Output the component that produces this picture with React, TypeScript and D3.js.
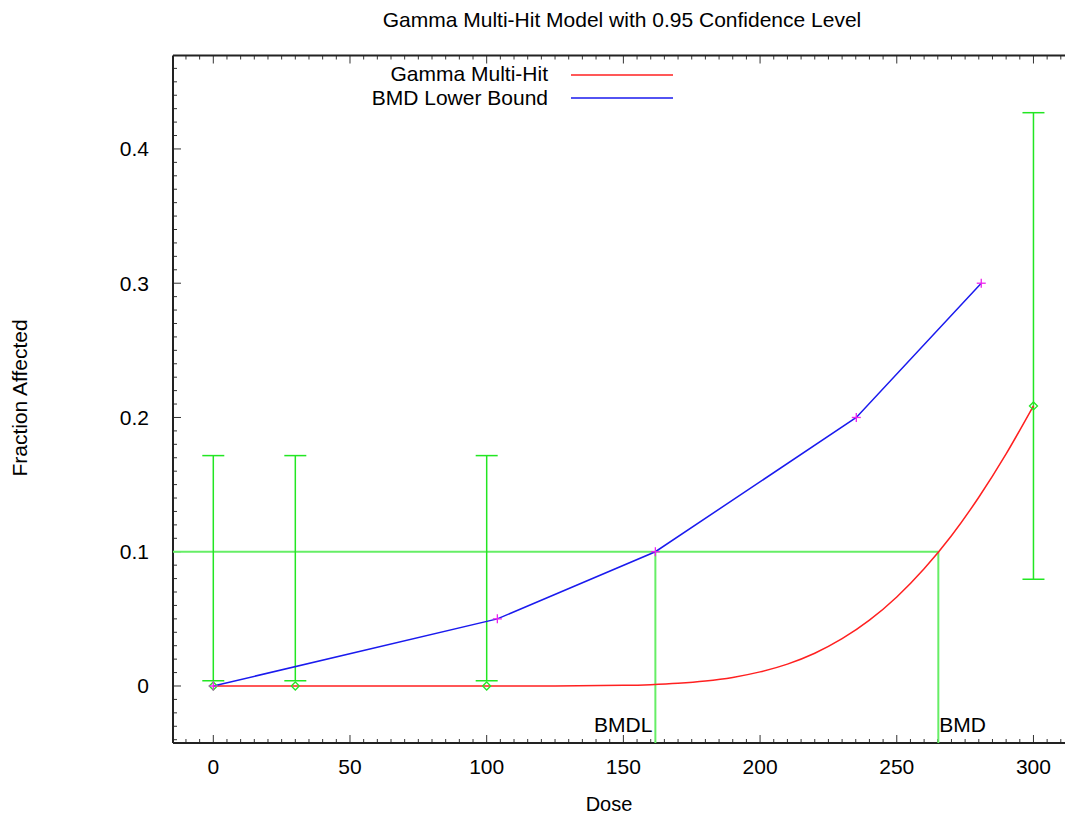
import React from "react";
import * as d3 from "d3";

const W = 1065;
const H = 816;

// Observed data with confidence intervals
const obsDose = [0, 30, 100, 300];
const obsFrac = [0, 0, 0, 0.2086];
const obsLower = [0.0039, 0.0039, 0.0039, 0.0795];
const obsUpper = [0.1716, 0.1716, 0.1716, 0.427];

// Gamma Multi-Hit fitted curve
const fitDose = [0, 50, 100, 125, 150, 160, 170, 180, 190, 200, 210, 220, 230, 240, 250, 260, 270, 280, 290, 300];
const fitFrac = [0, 0, 0, 0.00004, 0.00047, 0.001, 0.002, 0.0037, 0.0064, 0.0105, 0.0163, 0.0244, 0.0352, 0.049, 0.0663, 0.0873, 0.1119, 0.1406, 0.1729, 0.2087];

// BMD lower bound line
const lbDose = [0, 103.9, 161.7, 235.2, 280.9];
const lbFrac = [0, 0.05, 0.1, 0.2, 0.3];

const BMR = 0.1;
const BMD = 265.2;
const BMDL = 161.7;

const xTicks = [0, 50, 100, 150, 200, 250, 300];
const yTicks = [0, 0.1, 0.2, 0.3, 0.4];
const yTickLabels = ["0", "0.1", "0.2", "0.3", "0.4"];

const left = 173;
const right = 1066;
const top = 55.5;
const bottom = 743;

const x = d3.scaleLinear().domain([-14.74, 311.9]).range([left, right]);
const y = d3.scaleLinear().domain([-0.04246, 0.4696]).range([bottom, top]);

const FONT = "'Liberation Sans', Arial, Helvetica, sans-serif";
const FS = 21;

export default function App() {
  const fitLine = d3
    .line<number>()
    .x((_, i) => x(fitDose[i]))
    .y((d) => y(d))
    .curve(d3.curveMonotoneX)(fitFrac) as string;
  const lbLine = d3
    .line<number>()
    .x((_, i) => x(lbDose[i]))
    .y((d) => y(d))(lbFrac) as string;

  const xMinor = d3.range(-10, 311, 5);
  const yMinor = d3.range(-0.04, 0.465, 0.01);
  const tickCol = "#333";
  const green = "#22e622";
  const green2 = "#66ee66";

  return (
    <svg
      width={W}
      height={H}
      style={{ position: "absolute", left: 0, top: 0, background: "#fff" }}
      fontFamily={FONT}
    >
      <rect x={0} y={0} width={W} height={H} fill="#fff" />
      {/* title */}
      <text x={622} y={27} fontSize={FS} textAnchor="middle" fill="#000">
        Gamma Multi-Hit Model with 0.95 Confidence Level
      </text>

      {/* ticks */}
      <g stroke={tickCol} strokeWidth={1}>
        {xMinor.map((v) => {
          const major = Math.abs(v % 50) < 1e-9;
          const len = major ? 8 : 4;
          return (
            <g key={"xt" + v}>
              <line x1={x(v)} x2={x(v)} y1={bottom} y2={bottom - len} />
              <line x1={x(v)} x2={x(v)} y1={top} y2={top + len} />
            </g>
          );
        })}
        {yMinor.map((v, i) => {
          const major = Math.abs(Math.round(v * 100)) % 10 === 0;
          const len = major ? 8 : 4;
          return <line key={"yt" + i} x1={left} x2={left + len} y1={y(v)} y2={y(v)} />;
        })}
      </g>

      {/* frame */}
      <g stroke="#222" strokeWidth={2} fill="none">
        <line x1={left} x2={W} y1={top} y2={top} />
        <line x1={left} x2={W} y1={bottom} y2={bottom} />
        <line x1={left} x2={left} y1={top} y2={bottom} />
      </g>

      {/* tick labels */}
      <g fontSize={FS} fill="#000">
        {xTicks.map((v) => (
          <text key={"xl" + v} x={x(v)} y={774} textAnchor="middle">
            {v}
          </text>
        ))}
        {yTicks.map((v, i) => (
          <text key={"yl" + v} x={149} y={y(v) + 7.5} textAnchor="end">
            {yTickLabels[i]}
          </text>
        ))}
      </g>

      {/* axis titles */}
      <text x={609} y={811} fontSize={20} textAnchor="middle" fill="#000">
        Dose
      </text>
      <text
        transform={`translate(27,398) rotate(-90)`}
        fontSize={FS}
        textAnchor="middle"
        fill="#000"
      >
        Fraction Affected
      </text>

      {/* BMR / BMD / BMDL lines */}
      <g stroke={green2} strokeWidth={2}>
        <line x1={left} x2={x(BMD)} y1={y(BMR)} y2={y(BMR)} />
        <line x1={x(BMD)} x2={x(BMD)} y1={y(BMR)} y2={bottom} />
        <line x1={x(BMDL)} x2={x(BMDL)} y1={y(BMR)} y2={bottom} />
      </g>
      <text x={x(BMDL) - 3} y={732} fontSize={FS} textAnchor="end" fill="#000">
        BMDL
      </text>
      <text x={x(BMD) + 1} y={732} fontSize={FS} textAnchor="start" fill="#000">
        BMD
      </text>

      {/* error bars */}
      <g stroke={green} strokeWidth={1.5} fill="none">
        {obsDose.map((d, i) => (
          <g key={"eb" + i}>
            <line x1={x(d)} x2={x(d)} y1={y(obsLower[i])} y2={y(obsUpper[i])} />
            <line x1={x(d) - 11} x2={x(d) + 11} y1={y(obsLower[i])} y2={y(obsLower[i])} />
            <line x1={x(d) - 11} x2={x(d) + 11} y1={y(obsUpper[i])} y2={y(obsUpper[i])} />
          </g>
        ))}
      </g>

      {/* fitted curve */}
      <path d={fitLine} fill="none" stroke="#ff2020" strokeWidth={1.5} />
      {/* lower bound line */}
      <path d={lbLine} fill="none" stroke="#1a1aee" strokeWidth={1.5} />

      {/* observed points: hollow diamonds */}
      <g stroke={green} strokeWidth={1.3} fill="none">
        {obsDose.map((d, i) => {
          const cx = x(d);
          const cy = y(obsFrac[i]);
          return (
            <path
              key={"dm" + i}
              d={`M${cx - 4},${cy}L${cx},${cy - 4}L${cx + 4},${cy}L${cx},${cy + 4}Z`}
            />
          );
        })}
      </g>

      {/* lower bound points: plus markers */}
      <g stroke="#ee22ee" strokeWidth={1.3}>
        {lbDose.map((d, i) => {
          const cx = x(d);
          const cy = y(lbFrac[i]);
          return (
            <g key={"pl" + i}>
              <line x1={cx - 4.5} x2={cx + 4.5} y1={cy} y2={cy} />
              <line x1={cx} x2={cx} y1={cy - 4.5} y2={cy + 4.5} />
            </g>
          );
        })}
      </g>

      {/* legend */}
      <g fontSize={FS} fill="#000">
        <text x={548} y={81} textAnchor="end">
          Gamma Multi-Hit
        </text>
        <text x={548} y={105} textAnchor="end">
          BMD Lower Bound
        </text>
      </g>
      <line x1={571} x2={673} y1={75} y2={75} stroke="#ff2020" strokeWidth={1.5} />
      <line x1={571} x2={673} y1={98} y2={98} stroke="#1a1aee" strokeWidth={1.5} />
    </svg>
  );
}
